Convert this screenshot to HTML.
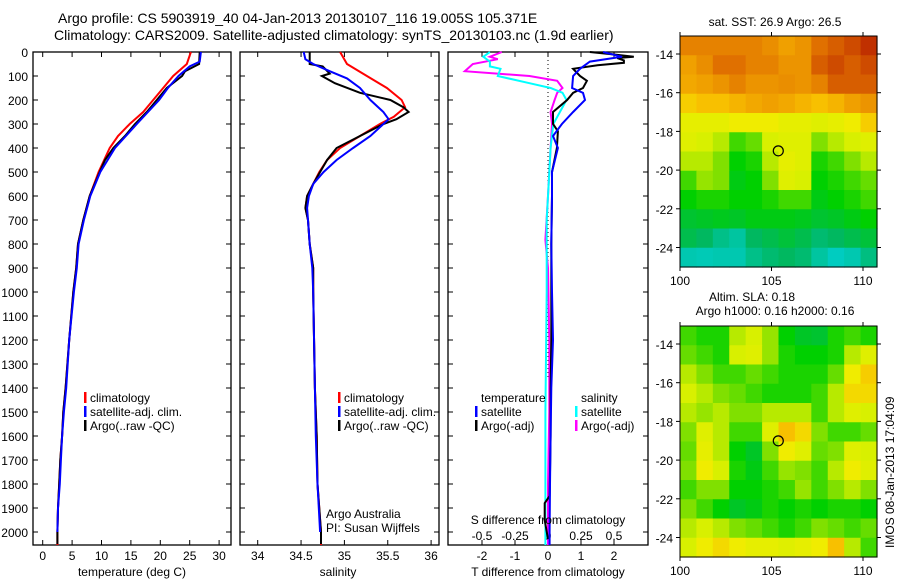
<!DOCTYPE html>
<html><head><meta charset="utf-8">
<style>
html,body{margin:0;padding:0;background:#fff;}
svg{display:block;font-family:"Liberation Sans",sans-serif;}
</style></head>
<body>
<svg id="fig" width="900" height="580" viewBox="0 0 900 580" xmlns="http://www.w3.org/2000/svg">
<text x="58" y="23" font-size="14">Argo profile: CS 5903919_40 04-Jan-2013 20130107_116 19.005S 105.371E</text>
<text x="54" y="40" font-size="14">Climatology: CARS2009. Satellite-adjusted climatology: synTS_20130103.nc (1.9d earlier)</text>
<g id="g"></g>
</svg>
<script>
// ---------- data ----------
const depthTicks=[0,100,200,300,400,500,600,700,800,900,1000,1100,1200,1300,1400,1500,1600,1700,1800,1900,2000];
const tempTicks=[0,5,10,15,20,25,30];
const salTicks=[34,34.5,35,35.5,36];
const tdTicks=[-2,-1,0,1,2];
const sdTicks=[-0.5,-0.25,0,0.25,0.5];
const sdTickLabels=["-0.5","-0.25","0","0.25","0.5"];

const argoTD=[0,50,80,100,150,200,250,300,350,400,450,500,600,700,800,900,1000,1200,1400,1500,1600,1700,1800,1900,2000,2050];
const argoT=[26.7,26.6,24.2,23.7,21.1,19.4,17.7,15.7,14.0,12.0,10.6,9.7,8.0,6.9,6.0,5.7,5.2,4.5,3.9,3.5,3.3,3.0,2.8,2.6,2.5,2.5];
const climTD=[0,50,100,150,200,250,300,350,400,500,600,700,800,900,1000,1200,1400,1500,1600,1700,1800,1900,2000,2054];
const climT=[25.2,24.5,22.2,20.5,18.8,17.1,14.8,12.8,11.4,9.5,8.0,6.9,6.0,5.7,5.2,4.5,3.9,3.5,3.3,3.0,2.8,2.6,2.5,2.5];
const satTD=[0,40,60,100,150,200,300,400,500,600,700,800,900,1000,1200,1400,1500,1600,1700,1800,1900,2000];
const satT=[26.9,26.7,25.0,23.1,21.3,19.8,16.0,12.3,9.8,8.1,7.0,6.1,5.8,5.3,4.5,4.0,3.6,3.3,3.1,2.9,2.6,2.5];

const argoSD=[0,50,60,90,100,130,170,200,230,250,280,300,350,400,450,500,550,600,650,700,800,900,1000,1400,1600,1800,2000,2050];
const argoS=[34.60,34.60,34.75,34.83,34.74,34.89,35.18,35.53,35.68,35.74,35.60,35.45,35.18,34.91,34.80,34.72,34.64,34.57,34.55,34.58,34.60,34.64,34.64,34.66,34.68,34.69,34.73,34.73];
const climSD=[0,50,100,150,200,230,270,300,350,400,450,500,550,600,650,700,800,900,1000,1400,1600,1800,2000,2054];
const climS=[34.95,35.03,35.26,35.49,35.66,35.70,35.57,35.41,35.18,34.95,34.80,34.71,34.64,34.57,34.55,34.58,34.60,34.64,34.64,34.66,34.68,34.69,34.73,34.73];
const satSD=[0,30,50,80,110,150,200,250,280,300,350,400,450,500,550,600,650,700,800,900,1000,1400,1600,1800,2000];
const satS=[34.53,34.55,34.64,34.83,35.03,35.18,35.30,35.45,35.51,35.45,35.30,35.10,34.91,34.76,34.64,34.59,34.57,34.58,34.60,34.63,34.64,34.66,34.67,34.69,34.72];

const dArgoTD=[0,10,20,25,35,45,55,70,100,120,150,170,200,250,300,330,400,500,600,800,1000,1200,1400,1600,1850,1880,1950,2030];
const dArgoT=[1.27,1.97,2.6,2.1,2.3,2.3,1.5,0.76,0.97,1.18,1.06,0.76,0.58,0.15,0.15,0.3,0.27,0.12,0.12,0.1,0.1,0.1,0.08,0.08,0.05,-0.1,-0.1,0.0];
const dSatTD=[0,20,40,70,100,150,170,200,250,300,350,400,500,600,800,1000,1200,1400,1600,1800,2000,2054];
const dSatT=[1.67,2.24,1.27,0.97,0.76,0.73,1.06,1.12,0.76,0.42,0.15,0.3,0.12,0.12,0.1,0.12,0.15,0.1,0.08,0.06,0.05,0.05];
const dArgoSD=[0,20,30,50,80,100,120,150,170,200,250,300,400,600,783,900,1200,1500,1800,2054];
const dArgoS=[-0.35,-0.44,-0.38,-0.57,-0.63,-0.14,0.07,0.11,0.07,0.05,0.02,0.03,0.02,0.0,-0.02,0.0,0.01,0.01,0.0,0.0];
const dSatSD=[0,20,40,60,70,100,130,150,170,200,250,300,400,700,1000,1500,2054];
const dSatS=[-0.44,-0.49,-0.44,-0.44,-0.36,-0.38,-0.14,0.02,0.11,0.14,0.09,0.04,0.02,-0.01,-0.01,-0.02,-0.02];

const latTicks=[-14,-16,-18,-20,-22,-24];
const lonTicks=[100,105,110];
const sstGrid=[
[0.85,0.85,0.85,0.85,0.85,0.83,0.8,0.82,0.88,0.9,0.92,0.95],
[0.8,0.83,0.88,0.88,0.85,0.85,0.82,0.82,0.9,0.92,0.9,0.92],
[0.78,0.8,0.82,0.85,0.82,0.82,0.83,0.82,0.85,0.9,0.9,0.9],
[0.7,0.72,0.72,0.75,0.78,0.8,0.78,0.75,0.72,0.75,0.8,0.82],
[0.62,0.62,0.62,0.65,0.65,0.65,0.62,0.62,0.6,0.62,0.65,0.7],
[0.6,0.58,0.55,0.45,0.48,0.58,0.6,0.6,0.5,0.55,0.58,0.6],
[0.55,0.55,0.5,0.4,0.42,0.55,0.62,0.6,0.42,0.45,0.5,0.55],
[0.45,0.52,0.5,0.38,0.4,0.5,0.6,0.58,0.4,0.42,0.45,0.48],
[0.4,0.42,0.42,0.4,0.4,0.42,0.45,0.45,0.38,0.4,0.42,0.45],
[0.35,0.36,0.37,0.36,0.38,0.38,0.38,0.37,0.35,0.36,0.38,0.4],
[0.32,0.3,0.25,0.22,0.3,0.32,0.34,0.32,0.28,0.3,0.32,0.34],
[0.2,0.18,0.2,0.2,0.25,0.28,0.3,0.28,0.22,0.15,0.2,0.26]];
const slaGrid=[
[0.45,0.42,0.42,0.55,0.58,0.52,0.4,0.36,0.35,0.42,0.45,0.42],
[0.48,0.45,0.42,0.58,0.6,0.52,0.42,0.4,0.4,0.42,0.55,0.6],
[0.55,0.5,0.45,0.45,0.48,0.45,0.42,0.42,0.42,0.48,0.65,0.7],
[0.58,0.55,0.5,0.48,0.45,0.42,0.42,0.42,0.45,0.55,0.68,0.68],
[0.55,0.52,0.55,0.5,0.5,0.55,0.55,0.55,0.45,0.55,0.6,0.58],
[0.5,0.6,0.55,0.45,0.45,0.6,0.72,0.68,0.5,0.45,0.45,0.48],
[0.48,0.62,0.55,0.4,0.36,0.5,0.65,0.6,0.48,0.5,0.6,0.58],
[0.5,0.65,0.58,0.42,0.38,0.45,0.52,0.5,0.45,0.55,0.65,0.6],
[0.45,0.5,0.5,0.4,0.4,0.42,0.45,0.52,0.45,0.5,0.55,0.5],
[0.5,0.45,0.4,0.36,0.38,0.42,0.4,0.42,0.4,0.42,0.42,0.4],
[0.55,0.58,0.55,0.5,0.48,0.45,0.42,0.45,0.5,0.48,0.45,0.48],
[0.58,0.65,0.68,0.65,0.62,0.62,0.6,0.62,0.65,0.72,0.55,0.45]];
const argoLon=105.371, argoLat=-19.005;

// ---------- helpers ----------
const NS="http://www.w3.org/2000/svg";
const G=document.getElementById('g');
function mk(tag,attrs,parent){const e=document.createElementNS(NS,tag);for(const k in attrs)e.setAttribute(k,attrs[k]);(parent||G).appendChild(e);return e;}
function txt(x,y,s,size,anchor,parent){const t=mk('text',{x:x,y:y,'font-size':size||12,'text-anchor':anchor||'start'},parent);t.textContent=s;return t;}
const yD=d=>52+d*0.24;
const xT=t=>42.7+t*5.88;
const xS=s=>257.7+(s-34)*86.7;
const xTd=v=>548+v*33;
const xSd=v=>548+v*132;

function frame(x0,x1,name){
  const r=mk('rect',{x:x0,y:52,width:x1-x0,height:493,fill:'none',stroke:'#000','stroke-width':1.3});
  
  
  depthTicks.forEach(d=>{
    mk('line',{x1:x0,x2:x0+5,y1:yD(d),y2:yD(d),stroke:'#000'});
    mk('line',{x1:x1,x2:x1-5,y1:yD(d),y2:yD(d),stroke:'#000'});
  });
}
function line(xs,ds,fx,color,name,w){
  const pts=xs.map((v,i)=>fx(v).toFixed(1)+','+yD(ds[i]).toFixed(1)).join(' ');
  const p=mk('polyline',{points:pts,fill:'none',stroke:color,'stroke-width':w||2,'stroke-linejoin':'miter'});
  
  
}
function legend(x,y,color,label,name){
  mk('rect',{x:x-6,y:y-10,width:2.5,height:11,fill:color});
  const t=txt(x,y,label,12);
  
  
}

// ---------- panel 1: temperature ----------
frame(33,231,'temperature-panel');
depthTicks.forEach(d=>{const t=txt(28,yD(d)+5,String(d),12,'end');

});
tempTicks.forEach(v=>{mk('line',{x1:xT(v),x2:xT(v),y1:545,y2:540,stroke:'#000'});mk('line',{x1:xT(v),x2:xT(v),y1:52,y2:57,stroke:'#000'});
const t=txt(xT(v),560,String(v),12,'middle');

});
line(climT,climTD,xT,'#f00','temp-climatology-line');
line(argoT,argoTD,xT,'#000','temp-argo-line');
line(satT,satTD,xT,'#0000ff','temp-satellite-line');
txt(132,576,'temperature (deg C)',12,'middle');
legend(90,402,'#f00','climatology','legend-climatology');
legend(90,416,'#0000ff','satellite-adj. clim.','legend-satellite-adj');
legend(90,430,'#000','Argo(..raw -QC)','legend-argo');

// ---------- panel 2: salinity ----------
frame(240,439,'salinity-panel');
salTicks.forEach(v=>{mk('line',{x1:xS(v),x2:xS(v),y1:545,y2:540,stroke:'#000'});mk('line',{x1:xS(v),x2:xS(v),y1:52,y2:57,stroke:'#000'});
const t=txt(xS(v),560,String(v),12,'middle');

});
line(climS,climSD,xS,'#f00','sal-climatology-line');
line(argoS,argoSD,xS,'#000','sal-argo-line');
line(satS,satSD,xS,'#0000ff','sal-satellite-line');
txt(338,576,'salinity',12,'middle');
legend(344,402,'#f00','climatology','legend-climatology-2');
legend(344,416,'#0000ff','satellite-adj. clim.','legend-satellite-adj-2');
legend(344,430,'#000','Argo(..raw -QC)','legend-argo-2');
txt(326,518,'Argo Australia',12);
txt(326,532,'PI: Susan Wijffels',12);

// ---------- panel 3: differences ----------
frame(448,648,'difference-panel');
mk('line',{x1:548,x2:548,y1:52,y2:380,stroke:'#000','stroke-dasharray':'1,3'});
tdTicks.forEach(v=>{mk('line',{x1:xTd(v),x2:xTd(v),y1:545,y2:540,stroke:'#000'});mk('line',{x1:xTd(v),x2:xTd(v),y1:52,y2:57,stroke:'#000'});
const t=txt(xTd(v),560,String(v),12,'middle');

});
sdTicks.forEach((v,i)=>{const t=txt(xSd(v),540,sdTickLabels[i],12,'middle');

});
line(dArgoS,dArgoSD,xSd,'#ff00ff','sdiff-argo-line');
line(dSatS,dSatSD,xSd,'#00ffff','sdiff-satellite-line');
line(dArgoT,dArgoTD,xTd,'#000','tdiff-argo-line');
line(dSatT,dSatTD,xTd,'#0000ff','tdiff-satellite-line');
txt(548,524,'S difference from climatology',12,'middle');
txt(548,576,'T difference from climatology',12,'middle');
txt(481,402,'temperature',12);
legend(481,416,'#0000ff','satellite','legend-t-satellite');
legend(481,430,'#000','Argo(-adj)','legend-t-argo');
txt(581,402,'salinity',12);
legend(581,416,'#00ffff','satellite','legend-s-satellite');
legend(581,430,'#ff00ff','Argo(-adj)','legend-s-argo');

// ---------- maps ----------
const cstops=[[0,[0,216,240]],[0.2,[0,200,176]],[0.3,[0,184,96]],[0.4,[0,208,0]],[0.5,[128,224,0]],[0.58,[216,240,0]],[0.65,[240,236,0]],[0.72,[248,192,0]],[0.8,[240,160,0]],[0.88,[224,112,0]],[0.95,[192,48,0]],[1,[160,0,0]]];
function cmap(v){for(let i=1;i<cstops.length;i++){if(v<=cstops[i][0]){const a=cstops[i-1],b=cstops[i];const f=(v-a[0])/(b[0]-a[0]);return 'rgb('+a[1].map((c,k)=>Math.round(c+(b[1][k]-c)*f)).join(',')+')';}}return 'rgb(160,0,0)';}
function drawMap(y0,grid,name){
  const x0=680,x1=877,y1=y0+231;
  const xL=lon=>x0+(lon-100)*18.3;
  const yL=lat=>y0+(-13.07-lat)*19.35;
  const g=mk('g',{});
  
  
  const rows=grid.length,cols=grid[0].length;
  const cw=(x1-x0)/cols,ch=(y1-y0)/rows;
  grid.forEach((row,r)=>row.forEach((v,c)=>{
    const cell=mk('rect',{x:(x0+c*cw).toFixed(2),y:(y0+r*ch).toFixed(2),width:(cw+0.6).toFixed(2),height:(ch+0.6).toFixed(2),fill:cmap(v)},g);
    
    
  }));
  mk('rect',{x:x0,y:y0,width:x1-x0,height:y1-y0,fill:'none',stroke:'#000','stroke-width':1},g);
  latTicks.forEach(l=>{mk('line',{x1:x0-4,x2:x0,y1:yL(l),y2:yL(l),stroke:'#000'},g);mk('line',{x1:x1,x2:x1+4,y1:yL(l),y2:yL(l),stroke:'#000'},g);
    const t=txt(673,yL(l)+5,String(l),12,'end',g);
    
    });
  lonTicks.forEach(l=>{mk('line',{x1:xL(l),x2:xL(l),y1:y1,y2:y1+4,stroke:'#000'},g);mk('line',{x1:xL(l),x2:xL(l),y1:y0-4,y2:y0,stroke:'#000'},g);
    const t=txt(xL(l),y1+18,String(l),12,'middle',g);
    
    });
  const c=mk('circle',{cx:xL(argoLon),cy:yL(argoLat),r:5,fill:'none',stroke:'#000','stroke-width':1.2},g);
  
  
}
drawMap(36,sstGrid,'sst-map');
drawMap(326,slaGrid,'sla-map');
txt(775,26,'sat. SST: 26.9 Argo: 26.5',12,'middle');
txt(752,301,'Altim. SLA: 0.18',12,'middle');
txt(775,315,'Argo h1000: 0.16 h2000: 0.16',12,'middle');
const v=txt(0,0,'IMOS 08-Jan-2013 17:04:09',12,'start');
v.setAttribute('transform','translate(894,548) rotate(-90)');


</script>
</body></html>
